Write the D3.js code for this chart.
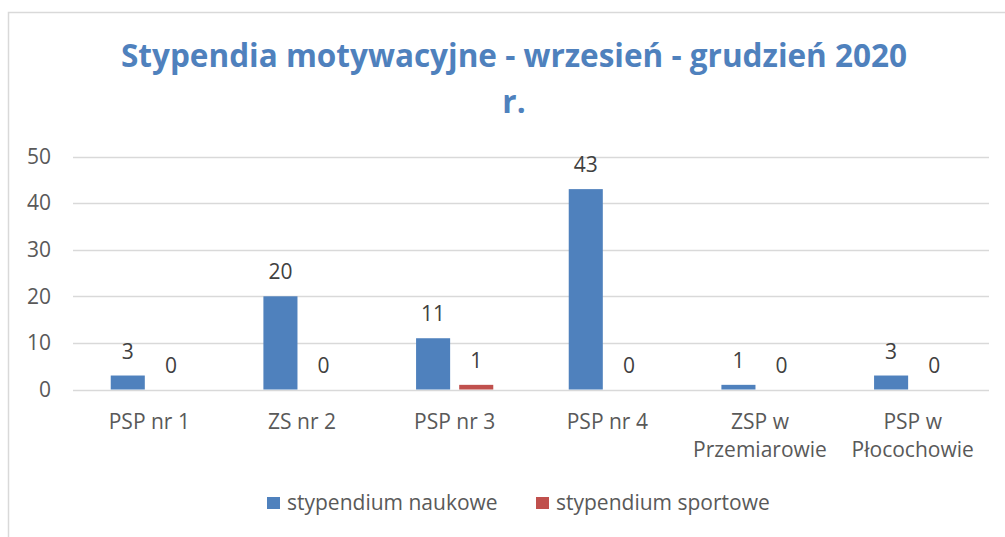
<!DOCTYPE html>
<html>
<head>
<meta charset="utf-8">
<script src="https://cdn.jsdelivr.net/npm/d3@7"></script>
<style>
  body { margin: 0; background: #fff; }
  svg { display: block; font-family: "Open Sans", sans-serif; }
</style>
</head>
<body>
<svg id="chart"></svg>
<script>

// data
var categories = [["PSP nr 1"], ["ZS nr 2"], ["PSP nr 3"], ["PSP nr 4"], ["ZSP w", "Przemiarowie"], ["PSP w", "Płocochowie"]];
var naukowe = [3, 20, 11, 43, 1, 3];
var sportowe = [0, 0, 1, 0, 0, 0];
var seriesNames = ["stypendium naukowe", "stypendium sportowe"];
var yTicks = [0, 10, 20, 30, 40, 50];
var titleLines = ["Stypendia motywacyjne - wrzesień - grudzień 2020", "r."];

var W = 1005, H = 537;
var margin = {top: 156.5, left: 73, right: 16, bottom: 147.5};
var colors = ["#4F81BD", "#C0504D"];
var textColor = "#595959";
var fs = 21;

var svg = d3.select("#chart")
    .attr("width", W)
    .attr("height", H);

// outer chart frame (cut off at right and bottom)
svg.append("path")
    .attr("d", "M8.5," + H + " V12.5 H" + W)
    .attr("fill", "none")
    .attr("stroke", "#D9D9D9")
    .attr("stroke-width", 1.5);

// title
svg.append("text")
    .attr("text-anchor", "middle")
    .attr("font-weight", "bold")
    .attr("font-size", 31.5)
    .attr("fill", "#4F81BD")
  .selectAll("tspan")
  .data(titleLines)
  .enter()
  .append("tspan")
    .attr("x", 514)
    .attr("y", function(d, i) { return 67 + i * 46; })
    .text(function(d) { return d; });

var keys = categories.map(function(d, i) { return i; });

var x0 = d3.scaleBand()
    .domain(keys)
    .range([margin.left, W - margin.right]);

var x1 = d3.scaleBand()
    .domain([0, 1])
    .range([0, x0.bandwidth()])
    .paddingInner(0.21)
    .paddingOuter(0.875);

var y = d3.scaleLinear()
    .domain([0, 50])
    .range([H - margin.bottom, margin.top]);

// gridlines
svg.append("g")
  .selectAll("line")
  .data(yTicks)
  .enter()
  .append("line")
    .attr("x1", margin.left)
    .attr("x2", W - margin.right)
    .attr("y1", function(d) { return Math.round(y(d)) + 0.5; })
    .attr("y2", function(d) { return Math.round(y(d)) + 0.5; })
    .attr("stroke", "#D9D9D9")
    .attr("stroke-width", 1.5);

// y axis labels
var yAxis = svg.append("g")
    .attr("transform", "translate(" + 51 + ",0)")
    .call(d3.axisLeft(y).tickValues(yTicks).tickSize(0).tickPadding(0));
yAxis.select(".domain").remove();
yAxis.selectAll("text")
    .attr("font-family", "Open Sans, sans-serif")
    .attr("font-size", fs)
    .attr("fill", textColor);

// bars
var groups = svg.append("g")
  .selectAll("g")
  .data(keys)
  .enter()
  .append("g")
    .attr("transform", function(d) { return "translate(" + x0(d) + ",0)"; });

var cell = groups.selectAll("g")
  .data(function(i) { return [naukowe[i], sportowe[i]].map(function(v, s) { return {s: s, v: v}; }); })
  .enter()
  .append("g");

cell.append("rect")
    .attr("x", function(d) { return x1(d.s); })
    .attr("width", x1.bandwidth())
    .attr("y", function(d) { return y(d.v); })
    .attr("height", function(d) { return y(0) - y(d.v); })
    .attr("fill", function(d) { return colors[d.s]; });

// value labels
cell.append("text")
    .attr("x", function(d) { return x1(d.s) + x1.bandwidth() / 2; })
    .attr("y", function(d) { return y(d.v) - 17; })
    .attr("text-anchor", "middle")
    .attr("font-size", fs)
    .attr("fill", "#404040")
    .text(function(d) { return d.v; });

// category labels
svg.append("g")
  .selectAll("text")
  .data(keys)
  .enter()
  .append("text")
    .attr("text-anchor", "middle")
    .attr("font-size", fs)
    .attr("fill", textColor)
  .selectAll("tspan")
  .data(function(i) { return categories[i].map(function(t) { return {i: i, t: t}; }); })
  .enter()
  .append("tspan")
    .attr("x", function(d) { return x0(d.i) + x0.bandwidth() / 2; })
    .attr("y", function(d, j) { return 429 + j * 28; })
    .text(function(d) { return d.t; });

// legend
var legendX = [267, 536];
var legend = svg.append("g")
  .selectAll("g")
  .data(seriesNames)
  .enter()
  .append("g")
    .attr("transform", function(d, i) { return "translate(" + legendX[i] + ",497)"; });

legend.append("rect")
    .attr("width", 13)
    .attr("height", 12)
    .attr("fill", function(d, i) { return colors[i]; });

legend.append("text")
    .attr("x", 20)
    .attr("y", 13)
    .attr("font-size", fs)
    .attr("fill", textColor)
    .text(function(d) { return d; });

</script>
</body>
</html>
